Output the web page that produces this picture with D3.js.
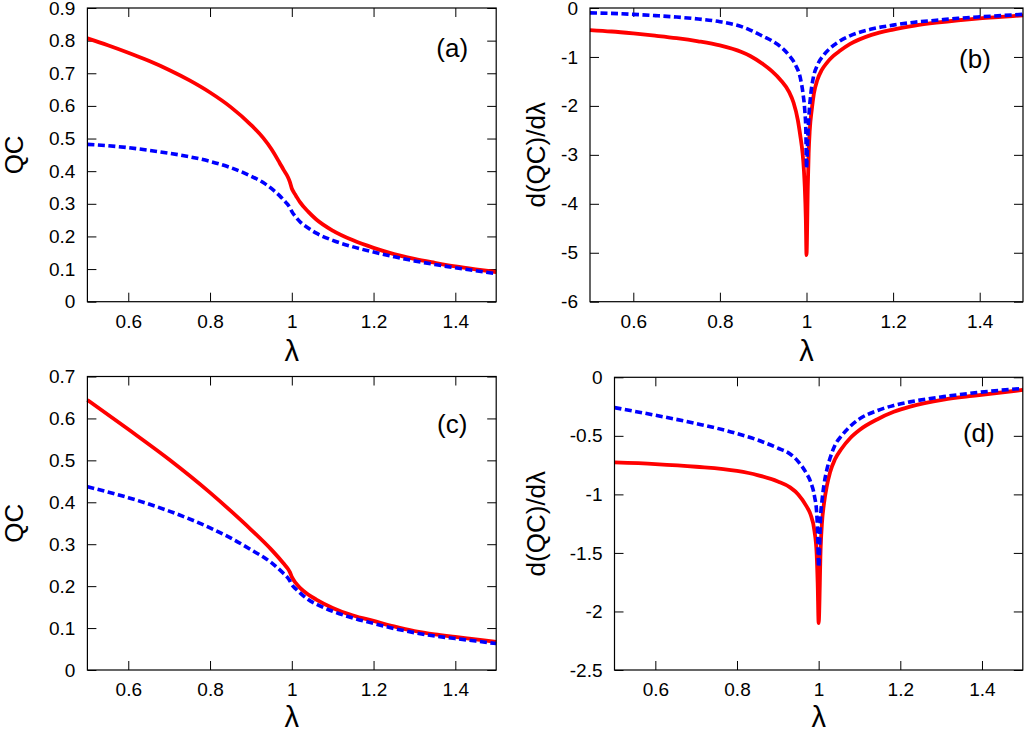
<!DOCTYPE html>
<html>
<head>
<meta charset="utf-8">
<script src="https://cdn.jsdelivr.net/npm/d3@7"></script>
<style>
  html, body { margin: 0; padding: 0; background: #fff; }
  svg { display: block; }
  text { font-family: "Liberation Sans", Arial, Helvetica, sans-serif; fill: #000; }
</style>
</head>
<body>
<svg id="chart" width="1024" height="732"></svg>
<script>
// ---------------- data ----------------
const xTicks = [0.6, 0.8, 1.0, 1.2, 1.4];

// panel (a): QC vs lambda
const lamA  = [0.5, 0.55, 0.6, 0.65, 0.7, 0.75, 0.8, 0.85, 0.9, 0.93, 0.95, 0.97, 0.98, 0.99, 0.995, 1.0, 1.005, 1.01, 1.02, 1.04, 1.06, 1.1, 1.15, 1.2, 1.25, 1.3, 1.35, 1.4, 1.45, 1.5];
const redA  = [0.807, 0.786, 0.763, 0.738, 0.710, 0.678, 0.641, 0.597, 0.542, 0.502, 0.468, 0.426, 0.404, 0.383, 0.368, 0.347, 0.335, 0.325, 0.305, 0.276, 0.252, 0.218, 0.188, 0.165, 0.146, 0.131, 0.119, 0.108, 0.099, 0.091];
const blueA = [0.482, 0.478, 0.472, 0.464, 0.455, 0.444, 0.430, 0.411, 0.385, 0.365, 0.347, 0.325, 0.312, 0.298, 0.289, 0.277, 0.267, 0.259, 0.245, 0.226, 0.210, 0.188, 0.168, 0.152, 0.138, 0.125, 0.114, 0.104, 0.095, 0.086];
const yTicksA = [0, 0.1, 0.2, 0.3, 0.4, 0.5, 0.6, 0.7, 0.8, 0.9];

// panel (b): d(QC)/dlambda
const lamBred  = [0.5, 0.55, 0.6, 0.65, 0.7, 0.75, 0.8, 0.85, 0.87, 0.9, 0.92, 0.94, 0.96, 0.97, 0.98, 0.986, 0.991, 0.994, 0.996, 0.9985, 1.0, 1.003, 1.005, 1.0075, 1.012, 1.017, 1.025, 1.035, 1.047, 1.062, 1.078, 1.1, 1.15, 1.2, 1.25, 1.3, 1.35, 1.4, 1.45, 1.5];
const redB     = [-0.45, -0.48, -0.52, -0.565, -0.615, -0.68, -0.765, -0.90, -0.98, -1.15, -1.29, -1.47, -1.72, -1.93, -2.29, -2.63, -2.97, -3.31, -3.65, -4.34, -5.05, -3.65, -2.97, -2.50, -2.09, -1.75, -1.47, -1.27, -1.12, -0.98, -0.87, -0.74, -0.55, -0.44, -0.36, -0.30, -0.25, -0.21, -0.18, -0.15];
const lamBblue = [0.5, 0.55, 0.6, 0.65, 0.7, 0.75, 0.8, 0.85, 0.87, 0.9, 0.92, 0.94, 0.96, 0.975, 0.986, 0.992, 0.996, 0.9985, 1.0, 1.003, 1.006, 1.01, 1.016, 1.025, 1.04, 1.055, 1.078, 1.1, 1.15, 1.2, 1.25, 1.3, 1.35, 1.4, 1.45, 1.5];
const blueB    = [-0.10, -0.11, -0.13, -0.155, -0.185, -0.225, -0.28, -0.38, -0.45, -0.58, -0.67, -0.79, -0.97, -1.17, -1.44, -1.75, -2.09, -2.50, -3.27, -2.63, -2.15, -1.75, -1.41, -1.17, -0.96, -0.82, -0.67, -0.57, -0.43, -0.35, -0.29, -0.25, -0.21, -0.18, -0.155, -0.13];
const yTicksB = [0, -1, -2, -3, -4, -5, -6];

// panel (c): QC vs lambda
const lamC  = [0.5, 0.6, 0.7, 0.8, 0.85, 0.9, 0.95, 0.98, 0.99, 0.995, 1.0, 1.01, 1.02, 1.04, 1.06, 1.1, 1.15, 1.2, 1.25, 1.3, 1.35, 1.4, 1.45, 1.5];
const redC  = [0.644, 0.574, 0.502, 0.423, 0.380, 0.335, 0.287, 0.254, 0.242, 0.234, 0.222, 0.207, 0.196, 0.180, 0.168, 0.148, 0.130, 0.117, 0.104, 0.093, 0.085, 0.079, 0.073, 0.067];
const blueC = [0.437, 0.411, 0.379, 0.339, 0.315, 0.287, 0.256, 0.230, 0.220, 0.213, 0.204, 0.193, 0.184, 0.168, 0.157, 0.140, 0.124, 0.111, 0.099, 0.089, 0.081, 0.075, 0.069, 0.063];
const yTicksC = [0, 0.1, 0.2, 0.3, 0.4, 0.5, 0.6, 0.7];

// panel (d): d(QC)/dlambda
const lamD  = [0.5, 0.6, 0.7, 0.8, 0.85, 0.9, 0.93, 0.95, 0.97, 0.98, 0.99, 0.995, 0.9976, 1.0, 1.005, 1.008, 1.013, 1.02, 1.028, 1.04, 1.056, 1.077, 1.1, 1.143, 1.184, 1.224, 1.306, 1.388, 1.5];
const redD  = [-0.727, -0.741, -0.764, -0.80, -0.835, -0.89, -0.94, -1.00, -1.10, -1.17, -1.32, -1.50, -1.76, -2.10, -1.45, -1.25, -1.08, -0.93, -0.81, -0.70, -0.61, -0.52, -0.45, -0.36, -0.295, -0.25, -0.19, -0.155, -0.108];
const blueD = [-0.259, -0.324, -0.395, -0.48, -0.535, -0.605, -0.655, -0.72, -0.82, -0.89, -1.02, -1.15, -1.33, -1.62, -1.17, -1.06, -0.92, -0.79, -0.69, -0.58, -0.50, -0.42, -0.355, -0.285, -0.24, -0.21, -0.165, -0.13, -0.095];
const yTicksD = [0, -0.5, -1, -1.5, -2, -2.5];

const panelTags = ["(a)", "(b)", "(c)", "(d)"];
const yLabels = ["QC", "d(QC)/dλ", "QC", "d(QC)/dλ"];
const xLabel = "λ";

// ---------------- layout ----------------
const panels = [
  { lamR: lamA, red: redA, lamB: lamA, blue: blueA, yTicks: yTicksA, ydom: [0, 0.9],
    x0: 87.4, x1: 496.2, y0: 8, y1: 301.7, ylabX: 23, tagDx: 44, tagDy: 49, xlabY: 361 },
  { lamR: lamBred, red: redB, lamB: lamBblue, blue: blueB, yTicks: yTicksB, ydom: [-6, 0],
    x0: 590, x1: 1023, y0: 8, y1: 301.7, ylabX: 545, tagDx: 48, tagDy: 60, xlabY: 361 },
  { lamR: lamC, red: redC, lamB: lamC, blue: blueC, yTicks: yTicksC, ydom: [0, 0.7],
    x0: 87.4, x1: 496.2, y0: 376.5, y1: 670, ylabX: 23, tagDx: 44, tagDy: 56, xlabY: 727 },
  { lamR: lamD, red: redD, lamB: lamD, blue: blueD, yTicks: yTicksD, ydom: [-2.5, 0],
    x0: 614.5, x1: 1022.8, y0: 377.3, y1: 670, ylabX: 545, tagDx: 44, tagDy: 65, xlabY: 727 }
];

const svg = d3.select("#chart");
const fmt = d => String(+(+d).toFixed(2));
const TICK = 9;

panels.forEach((p, i) => {
  const x = d3.scaleLinear().domain([0.5, 1.5]).range([p.x0, p.x1]);
  const y = d3.scaleLinear().domain(p.ydom).range([p.y1, p.y0]);
  const g = svg.append("g");

  // axes with inward ticks on all four sides
  const axB = g.append("g").attr("transform", `translate(0,${p.y1})`)
    .call(d3.axisBottom(x).tickValues(xTicks).tickSize(-TICK).tickPadding(13).tickFormat(fmt));
  const axT = g.append("g").attr("transform", `translate(0,${p.y0})`)
    .call(d3.axisTop(x).tickValues(xTicks).tickSize(-TICK).tickFormat(""));
  const axL = g.append("g").attr("transform", `translate(${p.x0},0)`)
    .call(d3.axisLeft(y).tickValues(p.yTicks).tickSize(-TICK).tickPadding(12).tickFormat(fmt));
  const axR = g.append("g").attr("transform", `translate(${p.x1},0)`)
    .call(d3.axisRight(y).tickValues(p.yTicks).tickSize(-TICK).tickFormat(""));
  [axB, axT, axL, axR].forEach(a => {
    a.select(".domain").remove();
    a.selectAll(".tick line").attr("stroke", "#000").attr("stroke-width", 1);
    a.selectAll(".tick text").style("font-size", "19px").attr("fill", "#000");
  });

  // curves
  const line = d3.line().x(d => x(d[0])).y(d => y(d[1])).curve(d3.curveMonotoneX);
  const redPts = p.lamR.map((l, k) => [l, p.red[k]]);
  const bluePts = p.lamB.map((l, k) => [l, p.blue[k]]);
  g.append("path").datum(redPts).attr("d", line)
    .attr("fill", "none").attr("stroke", "#ff0000").attr("stroke-width", 3.8)
    .attr("stroke-linejoin", "round");
  g.append("path").datum(bluePts).attr("d", line)
    .attr("fill", "none").attr("stroke", "#0000ff").attr("stroke-width", 3.6)
    .attr("stroke-dasharray", "7,3.5").attr("stroke-linejoin", "round");

  // frame
  g.append("rect").attr("x", p.x0).attr("y", p.y0)
    .attr("width", p.x1 - p.x0).attr("height", p.y1 - p.y0)
    .attr("fill", "none").attr("stroke", "#000").attr("stroke-width", 1.2);

  // panel tag
  g.append("text").attr("x", p.x1 - p.tagDx).attr("y", p.y0 + p.tagDy)
    .attr("text-anchor", "middle").style("font-size", "26px").text(panelTags[i]);

  // axis labels
  g.append("text").attr("x", x(1.0)).attr("y", p.xlabY)
    .attr("text-anchor", "middle").style("font-size", "29px").text(xLabel);
  g.append("text")
    .attr("transform", `translate(${p.ylabX},${(p.y0 + p.y1) / 2}) rotate(-90)`)
    .attr("text-anchor", "middle").style("font-size", "26px").text(yLabels[i]);
});
</script>
</body>
</html>
